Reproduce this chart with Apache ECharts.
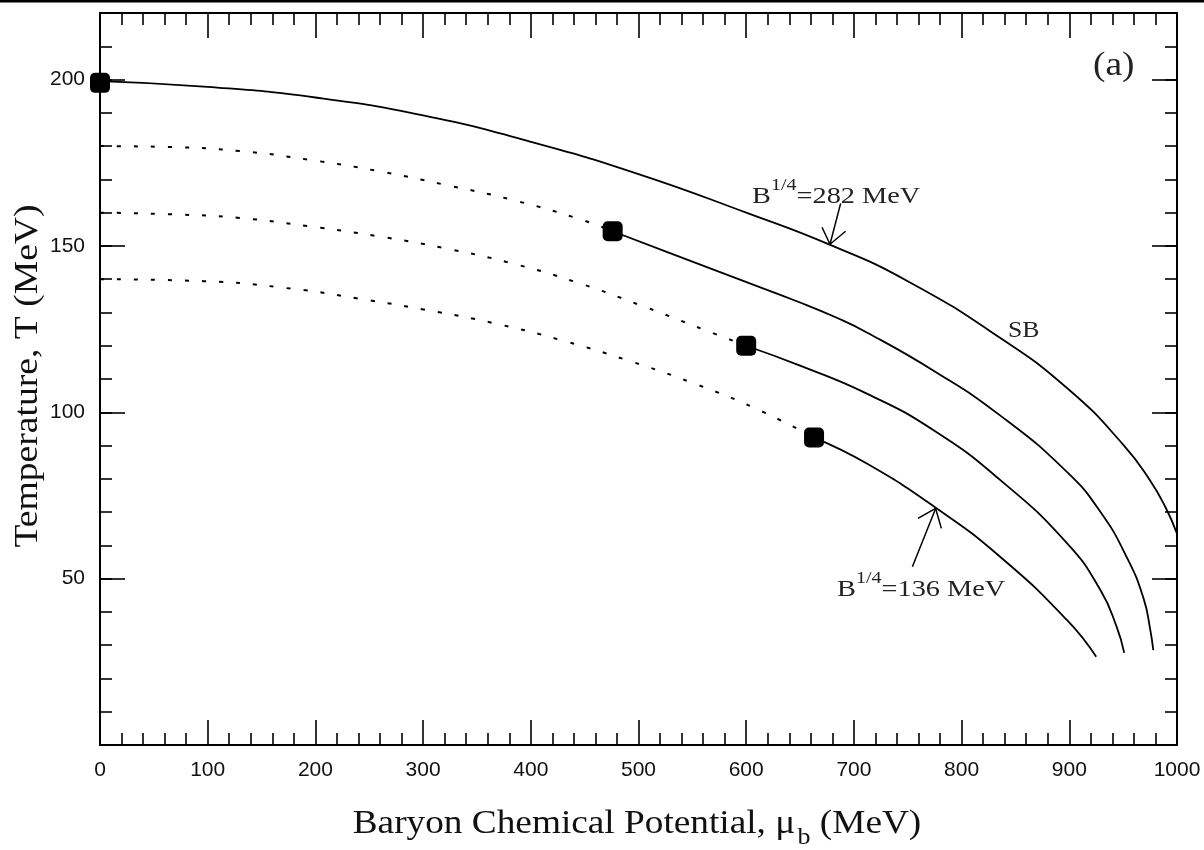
<!DOCTYPE html>
<html>
<head>
<meta charset="utf-8">
<script src="https://cdn.jsdelivr.net/npm/echarts@6/dist/echarts.min.js"></script>
<style>
  html, body { margin: 0; padding: 0; background: #ffffff; }
  #chart { width: 1204px; height: 850px; }
</style>
</head>
<body>
<div id="chart"></div>
<script>
// Phase boundaries in the (mu_b, T) plane, both in MeV.
// Stefan–Boltzmann boundary (B^1/4 = 282 MeV), fully solid.
const curveSB = [
  [0, 199.5], [100, 197.8], [200, 194.6], [300, 189.2], [400, 181.3], [500, 171.6],
  [600, 160.0], [678, 150.3], [750, 139.4], [836, 122.3], [900, 106.7], [950, 90.3],
  [975, 79.5], [990, 71.0], [1000, 63.5]
];

// Intermediate boundary: dotted branch up to the end point, solid branch after it.
const curve2Dotted = [
  [0, 180.0], [66, 179.7], [130, 178.5], [194, 175.9], [258, 172.5], [320, 168.4],
  [382, 163.9], [443, 158.3], [476, 154.4]
];
const curve2Solid = [
  [476, 154.4], [528, 148.0], [588, 140.6], [650, 133.0], [682, 128.7], [712, 124.0],
  [774, 112.5], [836, 99.0], [898, 82.0], [929, 70.0], [954, 56.0], [969, 44.0],
  [975, 35.0], [978, 28.5]
];

const curve3Dotted = [
  [0, 160.0], [66, 159.5], [130, 158.4], [194, 155.9], [258, 152.9], [320, 149.3],
  [382, 144.8], [443, 139.0], [504, 131.9], [565, 124.3], [600, 120.0]
];
const curve3Solid = [
  [600, 120.0], [650, 114.0], [712, 105.6], [774, 94.6], [836, 79.6], [898, 60.6],
  [929, 46.5], [944, 35.5], [951, 27.7]
];

// Lowest boundary (B^1/4 = 136 MeV).
const curve136Dotted = [
  [0, 140.0], [96, 139.4], [179, 137.1], [241, 134.1], [302, 130.8], [368, 126.6],
  [429, 121.6], [490, 115.6], [552, 108.6], [609, 101.1], [663, 92.4]
];
const curve136Solid = [
  [663, 92.4], [712, 84.6], [776, 71.3], [836, 56.5], [898, 37.5], [925, 26.5]
];

// Critical end points.
const endPoints = [[0, 199], [476, 154.4], [600, 120.0], [663, 92.4]];

// Annotation arrows (data units).
const arrow282Shaft = [[687.7, 162.8], [677.8, 150.5]];
const arrow282Head  = [[670.4, 155.6], [677.8, 150.5], [692.3, 154.4]];
const arrow136Shaft = [[754.3, 53.6], [775.9, 71.1]];
const arrow136Head  = [[759.5, 68.1], [775.9, 71.1], [781.2, 65.1]];

const xRange = [0, 1000];
const yRange = [0, 220];

const chart = echarts.init(document.getElementById('chart'), null, { renderer: 'canvas' });

const ink = '#000000';
const serif = '"Liberation Serif", "Times New Roman", serif';
const sans = '"Liberation Sans", Arial, sans-serif';

function xAxisDef(pos, labels) {
  return {
    type: 'value', position: pos, min: xRange[0], max: xRange[1], interval: 100,
    axisLine: { show: true, onZero: false, lineStyle: { color: ink, width: 2 } },
    axisTick: { show: true, inside: true, length: 25, lineStyle: { color: ink, width: 1.6 } },
    minorTick: { show: true, splitNumber: 5, length: 12, lineStyle: { color: ink, width: 1.6 } },
    axisLabel: {
      show: labels, color: '#111', fontFamily: sans, fontSize: 21, margin: 15,
      formatter: v => String(v)
    },
    splitLine: { show: false }, minorSplitLine: { show: false }
  };
}
function yAxisDef(pos, step, tickLen, labels) {
  return {
    type: 'value', position: pos, min: yRange[0], max: yRange[1], interval: step,
    axisLine: { show: true, onZero: false, lineStyle: { color: ink, width: 2 } },
    axisTick: { show: true, inside: true, length: tickLen, lineStyle: { color: ink, width: 1.6 } },
    axisLabel: {
      show: labels, color: '#111', fontFamily: sans, fontSize: 21, margin: 15,
      formatter: v => (v > 0 && v % 50 === 0) ? String(v) : ''
    },
    splitLine: { show: false }
  };
}

function curve(data, dotted) {
  return {
    type: 'line', data: data, xAxisIndex: 0, yAxisIndex: 0,
    showSymbol: false, symbol: 'none', smooth: 0.5, silent: true,
    lineStyle: dotted
      ? { color: ink, width: 2, type: [4, 13] }
      : { color: ink, width: 1.8 }
  };
}
function arrowPart(data) {
  return {
    type: 'line', data: data, xAxisIndex: 0, yAxisIndex: 0,
    showSymbol: false, symbol: 'none', silent: true,
    lineStyle: { color: ink, width: 1.5 }
  };
}

// B^{1/4} annotation with a superscript exponent.
function bagLabel(value, x, y) {
  return {
    type: 'text', x: x, y: y, scaleX: 1.18,
    style: {
      text: '{m|B}{p|1/4}{m|=' + value + ' MeV}', align: 'left', verticalAlign: 'middle',
      rich: {
        m: { fontFamily: serif, fontSize: 24, fill: '#222', lineHeight: 32, verticalAlign: 'bottom' },
        p: { fontFamily: serif, fontSize: 17, fill: '#222', lineHeight: 16, verticalAlign: 'top' }
      }
    }
  };
}

const option = {
  animation: false,
  backgroundColor: '#ffffff',
  grid: { left: 100, right: 27, top: 13, bottom: 105, containLabel: false },
  xAxis: [xAxisDef('bottom', true), xAxisDef('top', false)],
  yAxis: [
    yAxisDef('left', 10, 12, true),
    yAxisDef('left', 50, 25, false),
    yAxisDef('right', 10, 12, false),
    yAxisDef('right', 50, 25, false)
  ],
  series: [
    curve(curveSB, false),
    curve(curve2Dotted, true), curve(curve2Solid, false),
    curve(curve3Dotted, true), curve(curve3Solid, false),
    curve(curve136Dotted, true), curve(curve136Solid, false),
    arrowPart(arrow282Shaft), arrowPart(arrow282Head),
    arrowPart(arrow136Shaft), arrowPart(arrow136Head),
    {
      type: 'scatter', data: endPoints, xAxisIndex: 0, yAxisIndex: 0,
      symbol: 'roundRect', symbolSize: 20, clip: false, silent: true,
      itemStyle: { color: ink, opacity: 1 }
    }
  ],
  graphic: [
    { type: 'rect', left: 0, top: 0, shape: { width: 1204, height: 2.5 }, style: { fill: ink } },
    {
      type: 'text', x: 637, y: 828, scaleX: 1.13,
      style: {
        text: '{a|Baryon Chemical Potential, μ}{s|b}{a| (MeV)}',
        align: 'center', verticalAlign: 'middle',
        rich: {
          a: { fontFamily: serif, fontSize: 33, fill: '#111', lineHeight: 40, verticalAlign: 'top' },
          s: { fontFamily: serif, fontSize: 23, fill: '#111', lineHeight: 24, verticalAlign: 'top', padding: [18, 0, 0, 2] }
        }
      }
    },
    {
      type: 'text', x: 28, y: 376, rotation: Math.PI / 2, scaleX: 1.14,
      style: {
        text: 'Temperature, T (MeV)', align: 'center', verticalAlign: 'middle',
        fontFamily: serif, fontSize: 33, fill: '#111'
      }
    },
    {
      type: 'text', x: 1093, y: 66, scaleX: 1.1,
      style: { text: '(a)', align: 'left', verticalAlign: 'middle', fontFamily: serif, fontSize: 34, fill: '#222' }
    },
    bagLabel(282, 752, 193),
    {
      type: 'text', x: 1008, y: 331, scaleX: 1.12,
      style: { text: 'SB', align: 'left', verticalAlign: 'middle', fontFamily: serif, fontSize: 23, fill: '#222' }
    },
    bagLabel(136, 837, 586)
  ]
};

chart.setOption(option);
</script>
</body>
</html>
